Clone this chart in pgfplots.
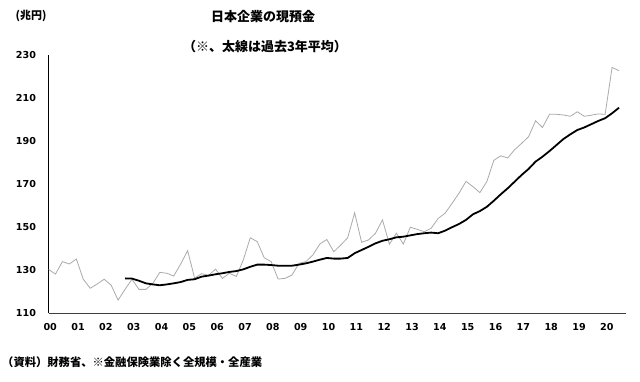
\documentclass[border=0pt]{standalone}
\usepackage{fontspec}
\setmainfont{Noto Sans CJK JP}
\newfontfamily\numfont{DejaVu Sans}
\usepackage{pgfplots}
\pgfplotsset{compat=1.18}
\definecolor{grayline}{RGB}{170,170,170}
\begin{document}
\begin{tikzpicture}[x=1pt,y=1pt]
\useasboundingbox (0,0) rectangle (640,381);
\begin{axis}[
  at={(48.5pt,68pt)}, anchor=south west,
  scale only axis, width=577.5pt, height=258pt,
  xmin=0, xmax=83, ymin=110, ymax=230,
  ytick={110,130,150,170,190,210,230},
  xtick={0.25,4.25,8.25,12.25,16.25,20.25,24.25,28.25,32.25,36.25,40.25,44.25,48.25,52.25,56.25,60.25,64.25,68.25,72.25,76.25,80.25},
  xticklabels={00,01,02,03,04,05,06,07,08,09,10,11,12,13,14,15,16,17,18,19,20},
  axis x line*=bottom, axis y line*=left,
  x axis line style={black!75, line width=0.9pt},
  y axis line style={black, line width=0.7pt},
  major tick length=0pt,
  /pgf/number format/assume math mode=true,
  tick label style={font=\numfont\fontsize{9.6}{11}\selectfont\bfseries},
  yticklabel style={xshift=-9pt},
  xticklabel style={yshift=-7pt},
]
\addplot[grayline, line width=0.8pt] coordinates {
(0,130.3)(1,128.1)(2,133.9)(3,132.8)(4,135.1)(5,125.7)(6,121.5)(7,123.5)(8,125.7)(9,123)
(10,116)(11,121)(12,125.7)(13,121)(14,121)(15,123.8)(16,128.9)(17,128.5)(18,127.2)(19,132.8)
(20,139)(21,126.2)(22,128.3)(23,127.5)(24,130.4)(25,126.1)(26,128.5)(27,127)(28,134.7)(29,145)
(30,143.2)(31,135.7)(32,133.9)(33,125.8)(34,126.1)(35,127.7)(36,133.1)(37,133.9)(38,137)(39,142.1)
(40,144.2)(41,138.5)(42,141.6)(43,145)(44,156.6)(45,142.9)(46,144)(47,147.1)(48,153.3)(49,142)
(50,147.1)(51,142.1)(52,149.9)(53,148.9)(54,147.8)(55,149.4)(56,154)(57,156.4)(58,161)(59,165.7)
(60,171.2)(61,168.8)(62,166)(63,171.1)(64,181)(65,183.1)(66,182.1)(67,186)(68,188.9)(69,192)
(70,199.4)(71,196.3)(72,202.4)(73,202.4)(74,202.1)(75,201.5)(76,203.6)(77,201.5)(78,202)(79,202.6)
(80,202.4)(81,224.2)(82,222.7)
};
\addplot[black, line width=1.8pt] coordinates {
(11,126.1)(12,126)(13,125)(14,123.8)(15,123.3)(16,122.9)(17,123.3)(18,123.8)(19,124.4)
(20,125.4)(21,125.7)(22,126.9)(23,127.4)(24,128)(25,128.5)(26,129.1)(27,129.5)(28,130.3)(29,131.5)
(30,132.5)(31,132.5)(32,132.3)(33,132)(34,132)(35,132)(36,132.5)(37,133.1)(38,133.9)(39,134.8)
(40,135.6)(41,135.3)(42,135.3)(43,135.6)(44,137.8)(45,139.3)(46,140.8)(47,142.4)(48,143.6)(49,144.3)
(50,145.2)(51,145.5)(52,146.1)(53,146.7)(54,147.1)(55,147.4)(56,147.1)(57,148.3)(58,149.9)(59,151.4)
(60,153.3)(61,155.9)(62,157.4)(63,159.4)(64,162.2)(65,165.2)(66,168)(67,171.1)(68,174.2)(69,177)
(70,180.4)(71,182.7)(72,185.3)(73,188.1)(74,190.9)(75,193.1)(76,195.1)(77,196.3)(78,197.8)(79,199.3)
(80,200.6)(81,202.9)(82,205.5)
};
\end{axis}
\node[font=\fontsize{11}{13}\selectfont\bfseries] at (31,365) {(兆円)};
\node[font=\fontsize{13}{15}\selectfont\bfseries] at (263,364) {日本企業の現預金};
\node[font=\fontsize{13}{15}\selectfont\bfseries] at (265,334) {（※、太線は過去3年平均）};
\node[font=\fontsize{11.3}{13}\selectfont\bfseries, anchor=west, inner sep=0pt] at (2,19) {（資料）財務省、※金融保険業除く全規模・全産業};
\end{tikzpicture}
\end{document}
